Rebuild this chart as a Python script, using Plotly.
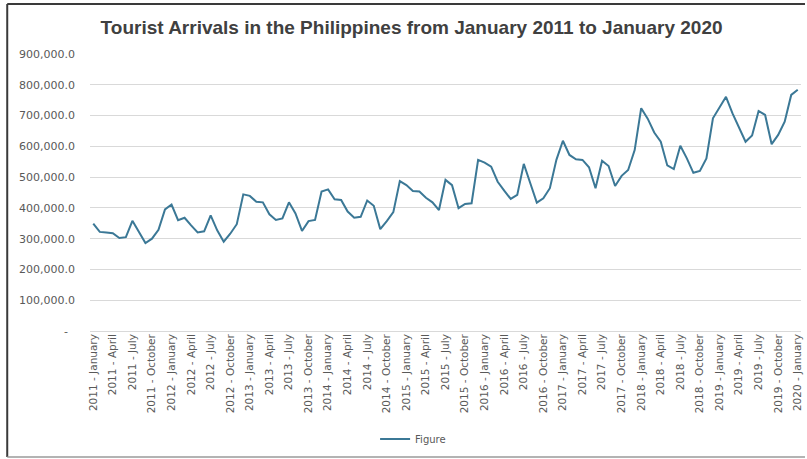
import plotly.graph_objects as go

months = ["January", "February", "March", "April", "May", "June", "July",
          "August", "September", "October", "November", "December"]
years = list(range(2011, 2021))
categories = [f"{y} - {m}" for y in years for m in months][:109]

arrivals = [
    349, 322, 320, 318, 302, 305, 358, 322, 286, 300, 329, 395,
    411, 360, 368, 343, 320, 324, 376, 327, 290, 316, 347, 444,
    439, 420, 418, 379, 361, 366, 418, 382, 325, 357, 361, 453,
    460, 428, 426, 388, 368, 371, 424, 407, 331, 357, 386, 487,
    474, 455, 453, 433, 418, 393, 491, 474, 399, 413, 415, 556,
    547, 534, 485, 456, 429, 442, 543, 480, 417, 431, 464, 556,
    618, 572, 558, 556, 532, 464, 553, 536, 471, 504, 523, 588,
    724, 690, 645, 615, 538, 526, 602, 561, 514, 520, 561, 691,
    724, 761, 707, 659, 615, 635, 715, 702, 607, 637, 680, 767,
    784,
]
arrivals = [v * 1000 for v in arrivals]

x_tick_labels = [c for i, c in enumerate(categories) if i % 3 == 0]
y_tick_vals = [0, 100000, 200000, 300000, 400000, 500000, 600000, 700000, 800000, 900000]
y_tick_text = ["-\u00a0\u00a0", "100,000.0", "200,000.0", "300,000.0", "400,000.0",
               "500,000.0", "600,000.0", "700,000.0", "800,000.0", "900,000.0"]

W, H = 807, 459
L, R, T, B = 90, 4, 54, 128
pw = W - L - R
ph = H - T - B


def px(x):
    return (x - L) / pw


def py(y):
    return (H - B - y) / ph


fig = go.Figure()
fig.add_trace(go.Scatter(
    x=categories, y=arrivals, mode="lines", name="Figure",
    line=dict(color="#3b7896", width=2),
))

fig.update_layout(
    width=W, height=H,
    margin=dict(l=L, r=R, t=T, b=B),
    paper_bgcolor="white", plot_bgcolor="white",
    font=dict(family="DejaVu Sans, sans-serif", color="#595959"),
    title=dict(
        text="<b>Tourist Arrivals in the Philippines from January 2011 to January 2020</b>",
        x=0.51, xanchor="center", y=1 - 27 / H, yanchor="middle",
        font=dict(family="Liberation Sans, Arial, sans-serif", size=19, color="#404040"),
    ),
    showlegend=True,
    legend=dict(
        orientation="h", x=px(414), xanchor="center", y=py(439), yanchor="middle",
        font=dict(size=10, color="#595959"), bgcolor="rgba(0,0,0,0)",
    ),
    xaxis=dict(
        type="category", range=[-0.5, 108.5],
        tickmode="array", tickvals=x_tick_labels, ticktext=x_tick_labels,
        tickangle=-90, tickfont=dict(size=10.5, color="#595959"),
        showgrid=False, showline=False, zeroline=False, ticks="",
    ),
    yaxis=dict(
        range=[0, 900000], tickmode="array", tickvals=y_tick_vals, ticktext=y_tick_text,
        tickfont=dict(size=11, color="#595959"), ticklabelstandoff=14,
        showgrid=True, gridcolor="#d9d9d9", gridwidth=1,
        zeroline=True, zerolinecolor="#d9d9d9", zerolinewidth=1,
        showline=False, ticks="",
    ),
    shapes=[
        dict(type="line", xref="paper", yref="paper", x0=px(7), x1=px(7), y0=py(4), y1=py(457),
             line=dict(color="#3a3a3a", width=2)),
        dict(type="line", xref="paper", yref="paper", x0=px(7), x1=px(807), y0=py(4), y1=py(4),
             line=dict(color="#3a3a3a", width=2)),
        dict(type="line", xref="paper", yref="paper", x0=px(7), x1=px(807), y0=py(457), y1=py(457),
             line=dict(color="#9a9a9a", width=1.5)),
    ],
)

fig.write_html("out.html")
